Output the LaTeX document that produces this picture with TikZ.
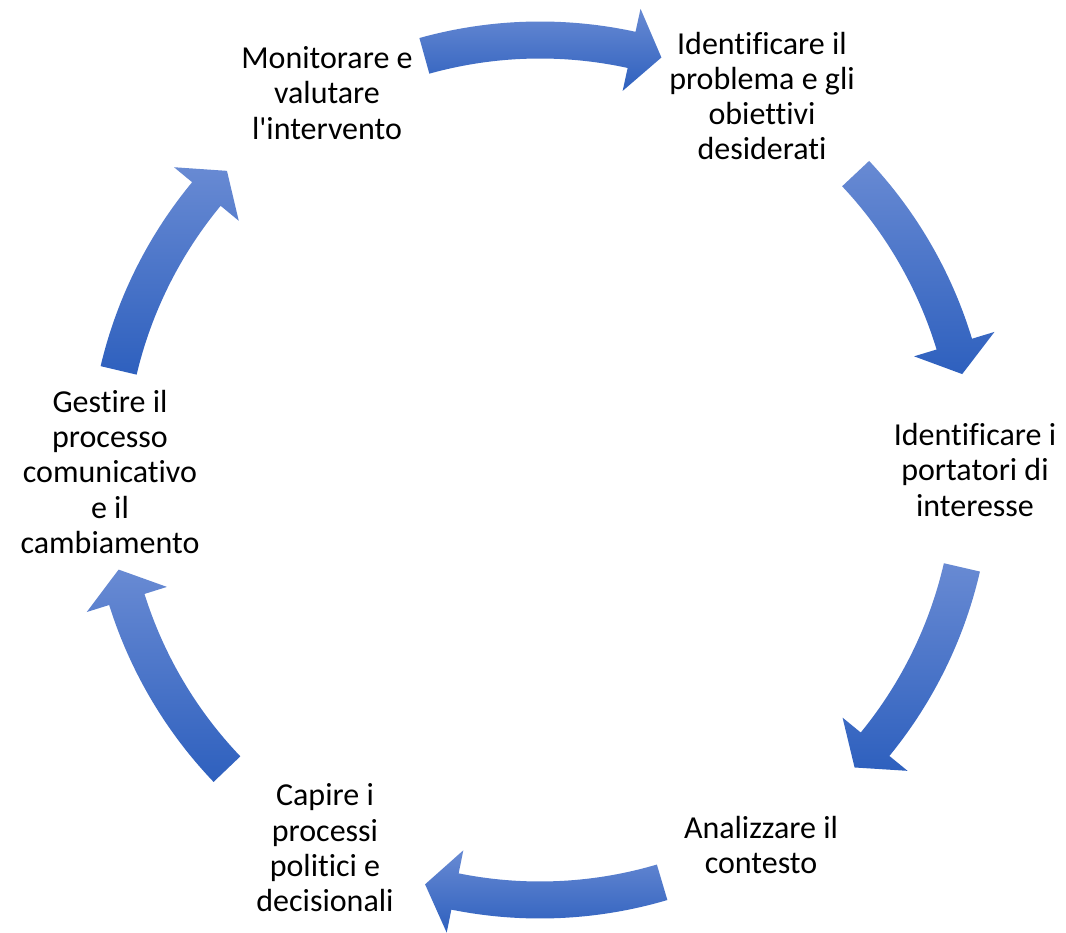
\documentclass[tikz,border=0pt]{standalone}
\usepackage{fontspec}
\setmainfont{Carlito}[Ligatures={TeXOff,NoCommon}]
\definecolor{arrowlight}{RGB}{104,138,211}
\definecolor{arrowdark}{RGB}{46,96,190}
\tikzset{
  lbl/.style={align=center, font=\fontsize{32}{35.3}\selectfont, text=black, inner sep=0pt},
  cyclearrow/.style={top color=arrowlight, bottom color=arrowdark, draw=none}
}
% #1 centre angle, #2 half span, #3 radius
\newcommand{\cyclearrowat}[3]{%
  \pgfmathsetmacro{\aA}{#1+#2}%
  \pgfmathsetmacro{\aB}{#1-#2+4.1}%
  \pgfmathsetmacro{\aC}{#1-#2}%
  \pgfmathsetmacro{\rO}{#3+18.5}%
  \pgfmathsetmacro{\rI}{#3-18.5}%
  \pgfmathsetmacro{\hO}{#3+42}%
  \pgfmathsetmacro{\hI}{#3-42}%
  \shade[cyclearrow] (\aA:\rO) arc[start angle=\aA, end angle=\aB, radius=\rO]
    -- (\aB:\hO) -- (\aC:#3) -- (\aB:\hI) -- (\aB:\rI)
    arc[start angle=\aB, end angle=\aA, radius=\rI] -- cycle;%
}
\begin{document}
\begin{tikzpicture}[x=1pt,y=1pt]
\useasboundingbox (-540,-463) rectangle (526,470);
\fill[white] (-540,-463) rectangle (526,470);
\cyclearrowat{89.6}{16}{430}
\cyclearrowat{28}{15.2}{433}
\cyclearrowat{-28.2}{15.2}{433}
\cyclearrowat{-89.5}{16}{430}
\cyclearrowat{-151.5}{15.2}{433}
\cyclearrowat{151.5}{15.2}{433}
\node[lbl] (n1) at (222,374) {Identificare il\\problema e gli\\obiettivi\\desiderati};
\node[lbl] (n2) at (435,0) {Identificare i\\portatori di\\interesse};
\node[lbl] (n3) at (221,-375) {Analizzare il\\contesto};
\node[lbl] (n4) at (-215,-378) {Capire i\\processi\\politici e\\decisionali};
\node[lbl] (n5) at (-430,-2) {Gestire il\\processo\\comunicativo\\e il\\cambiamento};
\node[lbl] (n6) at (-213,377) {Monitorare e\\valutare\\l'intervento};
\end{tikzpicture}
\end{document}
